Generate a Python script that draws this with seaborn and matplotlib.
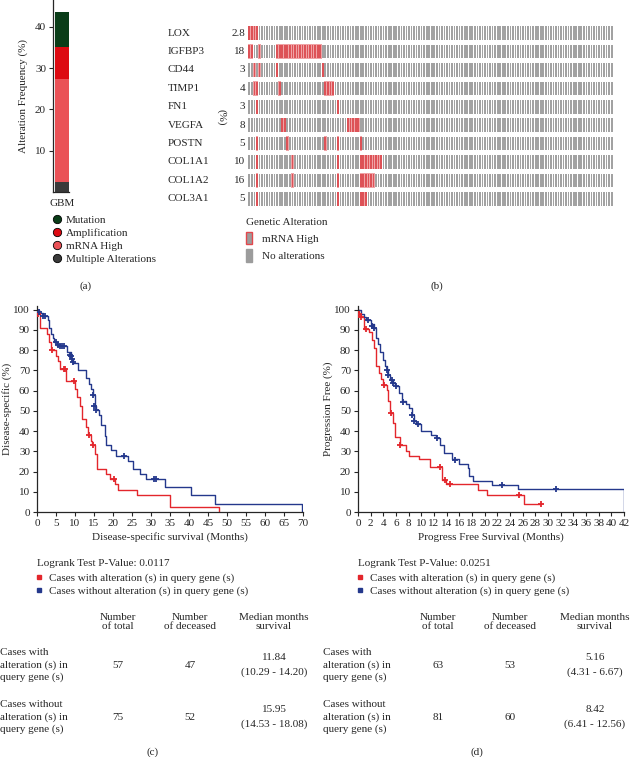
import numpy as np
import pandas as pd
import seaborn as sns
import matplotlib.pyplot as plt
from matplotlib.lines import Line2D
from matplotlib.patches import Patch
from matplotlib.transforms import blended_transform_factory

sns.set_theme(style='ticks')
plt.rcParams['font.family'] = ['Liberation Serif', 'DejaVu Serif']
plt.rcParams['font.size'] = 8

RED = '#e3262c'
BLUE = '#24388c'

# ---- panel (a): alteration frequency in GBM
alt_types = ['Multiple Alterations', 'mRNA High', 'Amplification', 'Mutation']
alt_freq = [2.5, 24.8, 7.7, 8.5]
alt_colors = ['#3a3a3a', '#ea5257', '#dd0a12', '#0a3d18']

# ---- panel (b): oncoprint
genes = ['LOX', 'IGFBP3', 'CD44', 'TIMP1', 'FN1', 'VEGFA', 'POSTN', 'COL1A1', 'COL1A2', 'COL3A1']
gene_pct = ['2.8', '18', '3', '4', '3', '8', '5', '10', '16', '5']
n_samples = 144
# altered sample ranges (inclusive) per gene
altered = {
    'LOX': [(0, 3)],
    'IGFBP3': [(0, 1), (4, 4), (11, 28)],
    'CD44': [(2, 2), (4, 4), (11, 11), (29, 29)],
    'TIMP1': [(2, 3), (12, 12), (30, 33)],
    'FN1': [(3, 3), (35, 35)],
    'VEGFA': [(13, 14), (39, 43)],
    'POSTN': [(3, 3), (15, 15), (30, 30), (35, 35), (44, 44)],
    'COL1A1': [(3, 3), (17, 17), (35, 35), (44, 52)],
    'COL1A2': [(3, 3), (17, 17), (35, 35), (44, 49)],
    'COL3A1': [(3, 3), (35, 35), (44, 46)],
}

# ---- panel (c): disease-specific survival
dss_alt_t = [0, 0.4, 0.9, 2.6, 3.1, 3.7, 4.9, 5.4, 6.0, 7.6, 10.1, 10.6, 11.2, 11.8, 12.8, 13.3,
             14.1, 14.5, 15.2, 15.9, 18.1, 19.1, 20.4, 21.3, 26.3, 35.1, 47.8]
dss_alt_s = [100, 98, 91, 88, 84, 80, 77, 74.5, 70.5, 64.5, 61, 57, 52.5, 46, 42, 38,
             35, 33, 28.5, 21, 19, 16.5, 14, 11, 8.3, 2.5, 0]
dss_alt_cens_t = [0.3, 3.9, 7.0, 7.4, 9.8, 13.7, 14.7, 20.2]
dss_alt_cens_s = [98, 80, 70.5, 70.5, 64.5, 38, 33, 16.5]

dss_unalt_t = [0, 0.5, 1.6, 2.8, 3.1, 3.6, 4.1, 4.6, 5.3, 8.0, 8.9, 9.4, 10.8, 12.9, 13.8, 14.3,
               14.7, 15.2, 15.6, 16.2, 16.8, 17.8, 18.1, 19.4, 20.7, 23.9, 25.3, 27.2, 28.8,
               33.8, 40.4, 46.9, 69.8]
dss_unalt_s = [100, 98.5, 97, 95, 91, 88, 86, 84, 82, 79, 75.5, 73.5, 70, 66, 63, 61,
               58, 52.5, 50.5, 48, 43, 37.5, 33, 30.5, 27.5, 25, 21, 19, 16.5,
               12.5, 8.3, 4, 0]
dss_unalt_cens_t = [0.6, 1.5, 2.1, 5.0, 5.5, 6.0, 6.6, 7.2, 8.6, 8.9, 9.1, 9.4, 14.8, 15.1, 15.5,
                    22.8, 30.7, 31.4]
dss_unalt_cens_s = [99, 97, 97, 84, 82.5, 82, 82, 82, 77.5, 77, 75.5, 74, 58, 52.5, 50.5,
                    27.5, 16.5, 16.5]

# ---- panel (d): progression free survival
pfs_alt_t = [0, 0.1, 0.4, 1.0, 1.8, 2.2, 2.6, 2.9, 3.3, 3.7, 4.0, 4.5, 4.8, 5.1, 5.5, 5.9, 6.6,
             7.6, 8.0, 9.6, 11.4, 13.3, 13.9, 19.0, 20.4, 26.2, 28.9]
pfs_alt_s = [100, 98, 96.5, 90.5, 89, 85, 81, 72, 68.5, 65.5, 62.5, 60.5, 55, 49, 44, 37, 33,
             30, 27.5, 26, 22, 16, 14, 11, 8.5, 4, 4]
pfs_alt_cens_t = [0.2, 0.5, 1.3, 4.1, 5.2, 6.7, 13.0, 13.7, 14.6, 25.4, 28.9]
pfs_alt_cens_s = [98, 96.5, 90.5, 62.5, 49, 33, 22, 16, 14, 8.5, 4]

pfs_unalt_t = [0, 0.5, 0.9, 1.3, 2.0, 2.6, 2.9, 3.2, 3.5, 3.9, 4.2, 4.5, 4.7, 5.0, 5.6, 5.8, 6.5,
               7.0, 7.5, 8.0, 8.5, 8.8, 9.2, 10.0, 11.5, 12.3, 13.0, 13.5, 14.9, 16.0, 17.3,
               17.6, 18.2, 21.2, 25.2, 42.0]
pfs_unalt_s = [100, 98, 96.5, 95, 93, 91, 86, 83, 79, 75, 72, 70, 67.5, 65, 63.5, 62, 59,
               55, 53.5, 51.5, 48, 45, 43.5, 40, 38, 36.5, 33, 29, 26, 23.5, 21.5,
               18, 15.5, 13.5, 11.3, 0]
pfs_unalt_cens_t = [1.5, 2.2, 2.5, 4.5, 4.7, 5.3, 5.5, 6.0, 7.1, 8.5, 8.9, 9.4, 12.5, 15.3, 22.8, 31.3]
pfs_unalt_cens_s = [95, 92, 91, 70, 67.5, 65, 63.5, 62, 54.5, 48, 45, 43.5, 36.5, 25.5, 13.5, 11.3]

# ---- tables
col_heads = ['Number\nof total', 'Number\nof deceased', 'Median months\nsurvival']
row_heads = ['Cases with\nalteration (s) in\nquery gene (s)',
             'Cases without\nalteration (s) in\nquery gene (s)']
dss_total = ['57', '75']
dss_dead = ['47', '52']
dss_median = ['11.84\n(10.29 - 14.20)', '15.95\n(14.53 - 18.08)']
pfs_total = ['63', '81']
pfs_dead = ['53', '60']
pfs_median = ['5.16\n(4.31 - 6.67)', '8.42\n(6.41 - 12.56)']
pvals = ['0.0117', '0.0251']

W, H = 630, 757
fig = plt.figure(figsize=(W / 100, H / 100), dpi=100)


def box(x0, y0, x1, y1):
    return [x0 / W, 1 - y1 / H, (x1 - x0) / W, (y1 - y0) / H]


# ================= (a)
ax_a = fig.add_axes(box(53, 0, 69, 192))
cum = np.cumsum(alt_freq)
for i in range(len(alt_types) - 1, -1, -1):
    sns.barplot(x=['GBM'], y=[cum[i]], color=alt_colors[i], width=1.0, saturation=1,
                linewidth=0, ax=ax_a)
ax_a.set_xlim(-0.62, 0.5)
ax_a.set_ylim(0, 46.5)
ax_a.set_yticks([10, 20, 30, 40])
ax_a.set_ylabel('Alteration Frequency (%)', fontsize=8, labelpad=5)
ax_a.tick_params(axis='x', length=0, labelsize=8, pad=5)
ax_a.tick_params(axis='y', length=3, width=0.8, labelsize=8, pad=2)
sns.despine(ax=ax_a)
for s in ['left', 'bottom']:
    ax_a.spines[s].set_linewidth(0.9)

handles_a = [Line2D([], [], marker='o', ls='', markersize=6, markerfacecolor=alt_colors[i],
                    markeredgecolor='black', markeredgewidth=0.6, label=alt_types[i])
             for i in [3, 2, 1, 0]]
fig.legend(handles=handles_a, loc='upper left', bbox_to_anchor=(51 / W, 1 - 215 / H),
           frameon=False, fontsize=8, handletextpad=0.35, labelspacing=0.3,
           handlelength=1.0, borderpad=0, borderaxespad=0)
fig.text(86 / W, 1 - 286 / H, '(a)', ha='center', va='center', fontsize=8)

# ================= (b)
ax_b = fig.add_axes(box(248, 24, 613, 208))
for r, g in enumerate(genes):
    flags = np.zeros(n_samples, dtype=bool)
    for a, b in altered[g]:
        flags[a:b + 1] = True
    ax_b.bar(np.arange(n_samples)[flags], 0.78, bottom=r - 0.39, width=1.0,
             color='#f0a3a6', linewidth=0, zorder=1)
    cols = np.where(flags, '#dd5257', '#a2a2a2')
    ax_b.bar(np.arange(n_samples), 0.74, bottom=r - 0.37, width=0.66, color=cols,
             linewidth=0, zorder=2)
ax_b.set_xlim(-0.5, n_samples - 0.5)
ax_b.set_ylim(len(genes) - 0.5, -0.5)
ax_b.axis('off')
tr = blended_transform_factory(fig.transFigure, ax_b.transData)
for r, g in enumerate(genes):
    ax_b.text(168 / W, r, g, transform=tr, ha='left', va='center', fontsize=8)
    ax_b.text(245 / W, r, gene_pct[r], transform=tr, ha='right', va='center', fontsize=8)
fig.text(221 / W, 1 - 117 / H, '(%)', rotation=270, ha='center', va='center', fontsize=8)

handles_b = [Patch(facecolor='#9c9c9c', edgecolor='#e3474c', linewidth=1.0, label='mRNA High'),
             Patch(facecolor='#9c9c9c', edgecolor='#9c9c9c', linewidth=1.0, label='No alterations')]
fig.legend(handles=handles_b, loc='upper left', bbox_to_anchor=(246 / W, 1 - 218 / H),
           title='Genetic Alteration', alignment='left', frameon=False, fontsize=8,
           title_fontsize=8, handlelength=0.55, handleheight=1.35, handletextpad=0.9,
           labelspacing=0.45, borderpad=0, borderaxespad=0)
fig.text(437 / W, 1 - 286 / H, '(b)', ha='center', va='center', fontsize=8)


# ================= KM panels
def km_panel(rect, curves, xmax, xstep, xlabel, ylabel):
    ax = fig.add_axes(rect)
    for t, s, ct, cs, col in curves:
        df = pd.DataFrame({'t': t, 's': s})
        sns.lineplot(data=df, x='t', y='s', drawstyle='steps-post', color=col, lw=1.0,
                     estimator=None, ax=ax)
        sns.scatterplot(x=ct, y=cs, marker='+', color=col, s=22, linewidth=1.3, ax=ax,
                        zorder=3)
    ax.set_xlim(0, xmax)
    ax.set_ylim(0, 102)
    ax.set_xticks(np.arange(0, xmax + 1, xstep))
    ax.set_yticks(np.arange(0, 101, 10))
    ax.set_xlabel(xlabel, fontsize=8, labelpad=3)
    ax.set_ylabel(ylabel, fontsize=8, labelpad=1)
    ax.tick_params(length=3, width=0.8, labelsize=8, pad=2)
    sns.despine(ax=ax)
    for sp in ['left', 'bottom']:
        ax.spines[sp].set_linewidth(0.9)
    return ax


km_panel(box(37, 305.5, 303, 512),
         [(dss_alt_t, dss_alt_s, dss_alt_cens_t, dss_alt_cens_s, RED),
          (dss_unalt_t, dss_unalt_s, dss_unalt_cens_t, dss_unalt_cens_s, BLUE)],
         70, 5, 'Disease-specific survival (Months)', 'Disease-specific (%)')
km_panel(box(358, 305.5, 624, 512),
         [(pfs_alt_t, pfs_alt_s, pfs_alt_cens_t, pfs_alt_cens_s, RED),
          (pfs_unalt_t, pfs_unalt_s, pfs_unalt_cens_t, pfs_unalt_cens_s, BLUE)],
         42, 2, 'Progress Free Survival (Months)', 'Progression Free (%)')

km_labels = ['Cases with alteration (s) in query gene (s)',
             'Cases without alteration (s) in query gene (s)']
for k, x0 in enumerate([37, 358]):
    fig.text(x0 / W, 1 - 563 / H, 'Logrank Test P-Value: ' + pvals[k], ha='left', va='center',
             fontsize=8)
    hk = [Line2D([], [], marker='s', ls='', markersize=3.5, color=c, label=l)
          for c, l in zip([RED, BLUE], km_labels)]
    fig.legend(handles=hk, loc='upper left', bbox_to_anchor=((x0 - 1) / W, 1 - 573 / H),
               frameon=False, fontsize=8, handlelength=0.6, handletextpad=0.6,
               labelspacing=0.3, borderpad=0, borderaxespad=0)

# ================= tables
tables = [
    (0, [118, 190, 274], dss_total, dss_dead, dss_median, '(c)', 153),
    (323, [438, 510, 595], pfs_total, pfs_dead, pfs_median, '(d)', 477),
]
for x0, cx, tot, dead, med, cap, capx in tables:
    for j, head in enumerate(col_heads):
        fig.text(cx[j] / W, 1 - 622 / H, head, ha='center', va='center', fontsize=8,
                 multialignment='center', linespacing=1.1)
    for i, yc in enumerate([665, 717]):
        fig.text(x0 / W, 1 - yc / H, row_heads[i], ha='left', va='center', fontsize=8,
                 linespacing=1.45)
        fig.text(cx[0] / W, 1 - yc / H, tot[i], ha='center', va='center', fontsize=8)
        fig.text(cx[1] / W, 1 - yc / H, dead[i], ha='center', va='center', fontsize=8)
        fig.text(cx[2] / W, 1 - yc / H, med[i], ha='center', va='center', fontsize=8,
                 multialignment='center', linespacing=1.6)
    fig.text(capx / W, 1 - 752 / H, cap, ha='center', va='center', fontsize=8)

fig.savefig('out.png', dpi=100)
